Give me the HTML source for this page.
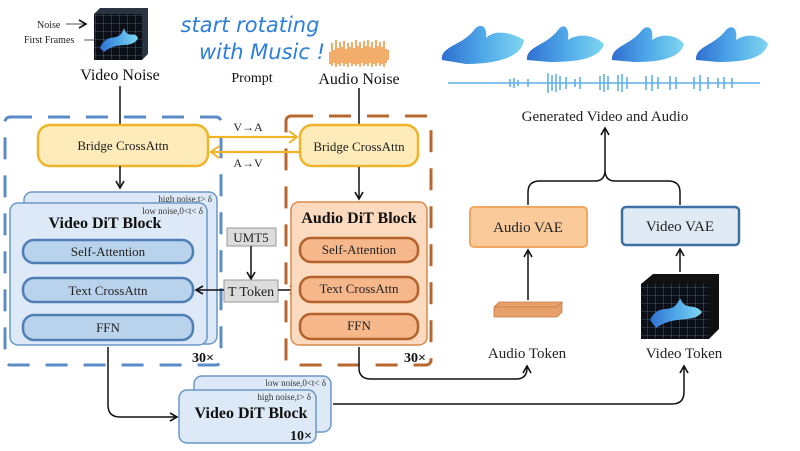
<!DOCTYPE html>
<html><head><meta charset="utf-8"><style>
html,body{margin:0;padding:0;background:#fff;}
svg{display:block;font-family:"Liberation Serif",serif;}
</style></head><body>
<svg width="800" height="451" viewBox="0 0 800 451" xmlns="http://www.w3.org/2000/svg">
<defs>
<marker id="ar" markerWidth="10" markerHeight="10" refX="8" refY="5" orient="auto" markerUnits="userSpaceOnUse"><path d="M1,1 L8,5 L1,9" fill="none" stroke="#111" stroke-width="1.6"/></marker>
<marker id="ay" markerWidth="12" markerHeight="14" refX="9" refY="7" orient="auto" markerUnits="userSpaceOnUse"><path d="M1,1 L9,7 L1,13" fill="none" stroke="#f0b429" stroke-width="2"/></marker>
<linearGradient id="lg" x1="0" x2="1"><stop offset="0" stop-color="#2f6fd0"/><stop offset="0.5" stop-color="#4fa8e8"/><stop offset="1" stop-color="#7fd6f0"/></linearGradient>
<pattern id="grid" width="8" height="8" patternUnits="userSpaceOnUse"><rect width="8" height="8" fill="#0a0f18"/><path d="M8 0V8M0 8H8" stroke="#7a8a9a" stroke-width="0.6"/></pattern>
</defs>

<text x="37" y="28" font-size="10" fill="#222">Noise</text>
<line x1="66" y1="24" x2="86" y2="24" stroke="#555" marker-end="url(#ar)"/>
<text x="24" y="43" font-size="10" fill="#222">First Frames</text>
<line x1="84" y1="40" x2="102" y2="40" stroke="#555"/>
<polygon points="94,14 100,8 148,8 148,54 142,60 94,60" fill="#2a3440"/>
<rect x="94" y="14" width="48" height="46" fill="url(#grid)"/>
<path d="M100,48 C108,30 118,45 124,28 C128,40 134,30 138,38 C132,50 118,40 104,52Z" fill="url(#lg)"/>
<text x="120" y="80" font-size="16" text-anchor="middle" fill="#111">Video Noise</text>

<text x="250" y="32" font-size="21" font-style="italic" fill="#2d7fd8" text-anchor="middle" font-family="'DejaVu Sans',sans-serif">start rotating</text>
<text x="262" y="59" font-size="21" font-style="italic" fill="#2d7fd8" text-anchor="middle" font-family="'DejaVu Sans',sans-serif">with Music !</text>
<text x="252" y="82" font-size="14" text-anchor="middle" fill="#111">Prompt</text>

<g stroke="#ec8a2a" stroke-width="1.4">
<path d="M330 52V64M332 43V66M334 50V63M336 40V67M338 48V64M340 42V66M342 47V63M344 41V66M346 49V64M348 43V67M350 47V63M352 42V66M354 48V64M356 40V66M358 46V64M360 42V67M362 48V63M364 41V66M366 46V64M368 40V66M370 47V63M372 42V67M374 48V64M376 40V66M378 46V63M380 42V66M382 47V64M384 41V67M386 49V63M388 50V60"/>
</g>
<text x="359" y="84" font-size="16" text-anchor="middle" fill="#111">Audio Noise</text>

<line x1="120" y1="86" x2="120" y2="125" stroke="#111" stroke-width="1.5"/>
<line x1="359" y1="88" x2="359" y2="125" stroke="#111" stroke-width="1.5"/>

<rect x="5" y="117" width="216" height="248" rx="5" fill="none" stroke="#5b8cc6" stroke-width="3" stroke-dasharray="22,16"/>
<rect x="286" y="116" width="145" height="249" rx="5" fill="none" stroke="#b8672e" stroke-width="3" stroke-dasharray="22,16"/>

<rect x="38" y="125" width="170" height="41" rx="12" fill="#fdebb9" stroke="#f0b429" stroke-width="2.5"/>
<text x="123" y="150" font-size="13" text-anchor="middle" fill="#222">Bridge CrossAttn</text>
<rect x="300" y="125" width="118" height="41" rx="12" fill="#fdebb9" stroke="#f0b429" stroke-width="2.5"/>
<text x="359" y="151" font-size="13" text-anchor="middle" fill="#222">Bridge CrossAttn</text>
<line x1="209" y1="137" x2="297" y2="137" stroke="#f0b429" stroke-width="2.2" marker-end="url(#ay)"/>
<line x1="299" y1="152" x2="211" y2="152" stroke="#f0b429" stroke-width="2.2" marker-end="url(#ay)"/>
<text x="248" y="131" font-size="12" text-anchor="middle" fill="#222">V→A</text>
<text x="248" y="167" font-size="12" text-anchor="middle" fill="#222">A→V</text>

<line x1="120" y1="166" x2="120" y2="188" stroke="#111" stroke-width="1.5" marker-end="url(#ar)"/>
<line x1="359" y1="167" x2="359" y2="199" stroke="#111" stroke-width="1.5" marker-end="url(#ar)"/>

<rect x="24" y="192" width="193" height="152" rx="8" fill="#dde9f6" stroke="#6a97c8" stroke-width="1.5"/>
<text x="212" y="202" font-size="9" text-anchor="end" fill="#333">high noise,t&gt; δ</text>
<rect x="10" y="203" width="197" height="142" rx="8" fill="#dde9f6" stroke="#6a97c8" stroke-width="1.5"/>
<text x="203" y="214" font-size="9" text-anchor="end" fill="#333">low noise,0&lt;t&lt; δ</text>
<text x="105" y="228" font-size="16" font-weight="bold" text-anchor="middle" fill="#111">Video DiT Block</text>
<g fill="#bad3ec" stroke="#4e7fb6" stroke-width="2.5">
<rect x="23" y="240" width="170" height="23" rx="11"/>
<rect x="23" y="278" width="170" height="24" rx="11"/>
<rect x="23" y="315" width="170" height="25" rx="11"/>
</g>
<g font-size="13" text-anchor="middle" fill="#222">
<text x="108" y="256">Self-Attention</text>
<text x="108" y="295">Text CrossAttn</text>
<text x="108" y="332">FFN</text>
</g>
<text x="203" y="362" font-size="14" font-weight="bold" text-anchor="middle" fill="#111">30×</text>

<rect x="227" y="228" width="49" height="18" fill="#dcdcdc" stroke="#999"/>
<text x="251" y="242" font-size="13" text-anchor="middle" fill="#222">UMT5</text>
<line x1="251" y1="246" x2="251" y2="279" stroke="#111" stroke-width="1.5" marker-end="url(#ar)"/>
<rect x="224" y="280" width="54" height="22" fill="#dcdcdc" stroke="#999"/>
<text x="251" y="296" font-size="14" text-anchor="middle" fill="#222">T Token</text>
<line x1="224" y1="290" x2="196" y2="290" stroke="#111" stroke-width="1.5" marker-end="url(#ar)"/>
<line x1="278" y1="290" x2="297" y2="290" stroke="#111" stroke-width="1.5" marker-end="url(#ar)"/>

<rect x="291" y="202" width="136" height="143" rx="8" fill="#fbdac0" stroke="#d98a4c" stroke-width="1.5"/>
<text x="359" y="223" font-size="16" font-weight="bold" text-anchor="middle" fill="#111">Audio DiT Block</text>
<g fill="#f6b88b" stroke="#b5612a" stroke-width="2.5">
<rect x="300" y="238" width="118" height="24" rx="11"/>
<rect x="300" y="277" width="118" height="25" rx="11"/>
<rect x="300" y="314" width="118" height="25" rx="11"/>
</g>
<g font-size="13" text-anchor="middle" fill="#222">
<text x="359" y="254">Self-Attention</text>
<text x="359" y="293">Text CrossAttn</text>
<text x="359" y="330">FFN</text>
</g>
<text x="415" y="362" font-size="14" font-weight="bold" text-anchor="middle" fill="#111">30×</text>

<path d="M108,347 V405 Q108,417 120,417 H177" fill="none" stroke="#111" stroke-width="1.5" marker-end="url(#ar)"/>
<path d="M359,347 V368 Q359,379 371,379 H516 Q527,379 527,368 V366" fill="none" stroke="#111" stroke-width="1.5" marker-end="url(#ar)"/>
<path d="M333,404 H672 Q684,404 684,392 V366" fill="none" stroke="#111" stroke-width="1.5" marker-end="url(#ar)"/>

<rect x="194" y="376" width="137" height="56" rx="8" fill="#dde9f6" stroke="#6a97c8" stroke-width="1.5"/>
<text x="326" y="386" font-size="9" text-anchor="end" fill="#333">low noise,0&lt;t&lt; δ</text>
<rect x="179" y="390" width="137" height="53" rx="8" fill="#dde9f6" stroke="#6a97c8" stroke-width="1.5"/>
<text x="311" y="400" font-size="9" text-anchor="end" fill="#333">high noise,t&gt; δ</text>
<text x="251" y="418" font-size="16" font-weight="bold" text-anchor="middle" fill="#111">Video DiT Block</text>
<text x="301" y="440" font-size="14" font-weight="bold" text-anchor="middle" fill="#111">10×</text>

<rect x="470" y="207" width="117" height="40" rx="4" fill="#fbca9a" stroke="#f0a860" stroke-width="2"/>
<text x="528" y="232" font-size="15" text-anchor="middle" fill="#222">Audio VAE</text>
<rect x="622" y="207" width="117" height="38" rx="4" fill="#dfeaf5" stroke="#3f6ea4" stroke-width="2.5"/>
<text x="680" y="231" font-size="15" text-anchor="middle" fill="#222">Video VAE</text>
<line x1="528" y1="300" x2="528" y2="250" stroke="#111" stroke-width="1.5" marker-end="url(#ar)"/>
<line x1="680" y1="272" x2="680" y2="249" stroke="#111" stroke-width="1.5" marker-end="url(#ar)"/>
<polygon points="494,307 499,302 562,302 562,312 557,317 494,317" fill="#e8a06a" stroke="#c27a44" stroke-width="0.8"/>
<line x1="494" y1="307" x2="557" y2="307" stroke="#c27a44" stroke-width="0.8"/>
<line x1="557" y1="307" x2="562" y2="302" stroke="#c27a44" stroke-width="0.8"/>
<polygon points="641,284 653,274 719,274 719,329 709,339 641,339" fill="#111"/>
<rect x="641" y="284" width="68" height="55" fill="url(#grid)"/>
<path d="M650,320 C660,300 672,318 680,298 C686,312 694,302 702,312 C694,324 676,314 656,328Z" fill="url(#lg)"/>
<text x="527" y="358" font-size="15" text-anchor="middle" fill="#222">Audio Token</text>
<text x="684" y="358" font-size="15" text-anchor="middle" fill="#222">Video Token</text>

<path d="M528,205 V192 Q528,181 540,181 H595 Q605,181 605,170 M680,205 V192 Q680,181 668,181 H615 Q605,181 605,170 V128" fill="none" stroke="#111" stroke-width="1.5" marker-end="url(#ar)"/>
<text x="605" y="121" font-size="15" text-anchor="middle" fill="#222">Generated Video and Audio</text>

<g fill="url(#lg)">
<path d="M442,60 C440,46 462,46 474,30 C480,22 488,26 486,38 C496,28 514,34 524,40 C522,56 500,64 466,64 Z"/>
<path d="M527,60 C526,46 546,46 558,30 C564,22 570,28 568,40 C580,32 596,36 604,44 C600,58 580,62 550,62 Z"/>
<path d="M612,60 C611,46 630,46 642,30 C648,24 654,28 652,40 C664,32 678,36 684,44 C680,58 662,62 634,62 Z"/>
<path d="M696,60 C695,46 714,46 726,30 C732,24 738,28 736,40 C748,32 762,36 768,44 C764,58 746,62 718,62 Z"/>
</g>
<g stroke="#5fb0ea" stroke-width="1.6">
<line x1="448" y1="83" x2="760" y2="83"/>
<path d="M510,79V87M514,78V88M518,80V86M528,79V87M548,73V93M552,75V91M556,74V92M560,76V90M566,77V89M575,79V87M580,77V89M600,76V90M604,74V92M608,76V90M618,75V91M622,74V92M627,77V89M646,76V90M652,75V91M658,77V89M670,76V90M676,77V89M694,77V89M700,75V91M708,77V89M718,78V88M724,77V89M732,78V88"/>
</g>
</svg>
</body></html>
